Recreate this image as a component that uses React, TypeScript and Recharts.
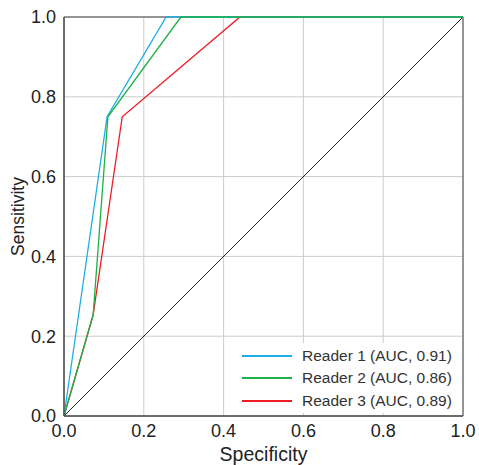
import React from "react";
import {
  LineChart,
  Line,
  XAxis,
  YAxis,
  CartesianGrid,
  Legend,
  ReferenceArea,
} from "recharts";

const FONT = '"Liberation Sans", Arial, Helvetica, sans-serif';

// ROC points (x = specificity axis, y = sensitivity)
const reader1X = [0, 0.108, 0.256, 1];
const reader1Y = [0, 0.75, 1, 1];
const reader2X = [0, 0.073, 0.11, 0.293, 1];
const reader2Y = [0, 0.253, 0.75, 1, 1];
const reader3X = [0, 0.073, 0.146, 0.441, 1];
const reader3Y = [0, 0.253, 0.75, 1, 1];
const chanceX = [0, 1];
const chanceY = [0, 1];

const ticks = [0, 0.2, 0.4, 0.6, 0.8, 1];

const legendNames = ["Reader 1 (AUC, 0.91)", "Reader 2 (AUC, 0.86)", "Reader 3 (AUC, 0.89)"];
const colors = ["#1eaee6", "#1db04b", "#ee1c25"];

const toPoints = (xs: number[], ys: number[]) => xs.map((x, i) => ({ x, y: ys[i] }));

const reader1 = toPoints(reader1X, reader1Y);
const reader2 = toPoints(reader2X, reader2Y);
const reader3 = toPoints(reader3X, reader3Y);
const chance = toPoints(chanceX, chanceY);

function LegendBox() {
  return (
    <div
      style={{
        background: "#fff",
        width: 236,
        height: 70,
        fontFamily: FONT,
        fontSize: 15.5,
        color: "#333",
        boxSizing: "border-box",
        paddingTop: 2,
      }}
    >
      {legendNames.map((name, i) => (
        <div key={name} style={{ display: "flex", alignItems: "center", height: 22.3 }}>
          <div style={{ width: 50, height: 2, background: colors[i], marginLeft: 17, marginRight: 10 }} />
          <span>{name}</span>
        </div>
      ))}
    </div>
  );
}

export default function App() {
  return (
    <div style={{ position: "absolute", left: 0, top: 0, background: "#fff" }}>
      <LineChart
        width={479}
        height={465}
        margin={{ top: 17, right: 16, bottom: 0, left: 0 }}
        style={{ fontFamily: FONT }}
      >
        <CartesianGrid stroke="#cccccc" horizontalValues={ticks} verticalValues={ticks} />
        <XAxis
          type="number"
          dataKey="x"
          domain={[0, 1]}
          ticks={ticks}
          tickFormatter={(v) => Number(v).toFixed(1)}
          allowDuplicatedCategory={false}
          height={49}
          tickLine={false}
          axisLine={{ stroke: "#444" }}
          tick={{ fontSize: 18, fill: "#222" }}
          tickMargin={2}
          label={{ value: "Specificity", position: "insideBottom", offset: 4, fontSize: 19.5, fill: "#222" }}
        />
        <YAxis
          type="number"
          dataKey="y"
          domain={[0, 1]}
          ticks={ticks}
          tickFormatter={(v) => Number(v).toFixed(1)}
          width={64}
          tickLine={false}
          axisLine={{ stroke: "#444" }}
          tick={{ fontSize: 18, fill: "#222" }}
          tickMargin={2}
          label={{ value: "Sensitivity", angle: -90, position: "center", dx: -14, fontSize: 17.5, fill: "#222" }}
        />
        <ReferenceArea x1={0} x2={1} y1={0} y2={1} fill="none" stroke="#444" strokeWidth={1} />
        <Legend
          layout="vertical"
          align="center"
          verticalAlign="middle"
          content={() => <LegendBox />}
          wrapperStyle={{ left: 225, top: 343, width: 236, height: 70 }}
        />
        <Line data={chance} dataKey="y" stroke="#222" strokeWidth={1} dot={false} isAnimationActive={false} legendType="none" />
        <Line data={reader3} dataKey="y" name={legendNames[2]} stroke={colors[2]} strokeWidth={1.3} dot={false} isAnimationActive={false} />
        <Line data={reader1} dataKey="y" name={legendNames[0]} stroke={colors[0]} strokeWidth={1.3} dot={false} isAnimationActive={false} />
        <Line data={reader2} dataKey="y" name={legendNames[1]} stroke={colors[1]} strokeWidth={1.3} dot={false} isAnimationActive={false} />
      </LineChart>
    </div>
  );
}
